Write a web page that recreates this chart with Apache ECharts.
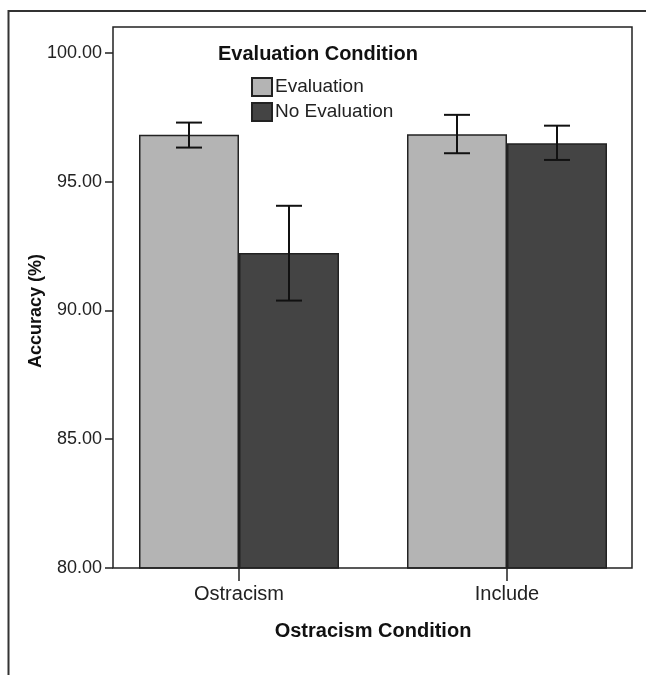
<!DOCTYPE html>
<html>
<head>
    <meta charset="utf-8">
    <script src="https://cdn.jsdelivr.net/npm/echarts@6/dist/echarts.min.js"></script>
    <style>
        html, body { margin: 0; padding: 0; background: #fff; }
        #main { width: 646px; height: 675px; }
    </style>
</head>
<body>
<div id="main"></div>
<script>
    // data
    var categories = ['Ostracism', 'Include'];
    var evalMeans = [96.82, 96.84];
    var evalLow = [96.32, 96.10];
    var evalHigh = [97.29, 97.59];
    var noEvalMeans = [92.23, 96.49];
    var noEvalLow = [90.38, 95.84];
    var noEvalHigh = [94.06, 97.17];
    var yTicks = [80, 85, 90, 95, 100];

    var chart = echarts.init(document.getElementById('main'));

    var barWidth = 100;
    var font = 'Liberation Sans, Arial, sans-serif';

    function errorSeries(low, high, shift) {
        var rows = [];
        for (var i = 0; i < low.length; i++) {
            rows.push([i, low[i], high[i]]);
        }
        return {
            type: 'custom',
            silent: true,
            z: 5,
            data: rows,
            renderItem: function (params, api) {
                var top = api.coord([api.value(0), api.value(2)]);
                var bottom = api.coord([api.value(0), api.value(1)]);
                var x = top[0] + shift;
                var half = 13;
                var style = {stroke: '#111', lineWidth: 2};
                return {
                    type: 'group',
                    children: [
                        {type: 'line', shape: {x1: x, y1: top[1], x2: x, y2: bottom[1]}, style: style},
                        {type: 'line', shape: {x1: x - half, y1: top[1], x2: x + half, y2: top[1]}, style: style},
                        {type: 'line', shape: {x1: x - half, y1: bottom[1], x2: x + half, y2: bottom[1]}, style: style}
                    ]
                };
            }
        };
    }

    var option = {
        animation: false,
        backgroundColor: '#fff',
        textStyle: {fontFamily: font},
        title: {
            text: 'Evaluation Condition',
            left: 218,
            top: 44,
            padding: 0,
            textStyle: {fontSize: 20, fontWeight: 'bold', color: '#111', fontFamily: font}
        },
        legend: {
            orient: 'vertical',
            left: 251,
            top: 77,
            padding: 0,
            icon: 'rect',
            itemWidth: 20,
            itemHeight: 18,
            itemGap: 5,
            data: ['Evaluation', 'No Evaluation'],
            textStyle: {fontSize: 19, color: '#222', lineHeight: 20, fontFamily: font, padding: [0, 0, 0, -2]}
        },
        grid: {
            left: 105,
            right: 5,
            top: 27,
            bottom: 107,
            containLabel: false
        },
        xAxis: {
            type: 'category',
            data: categories,
            name: 'Ostracism Condition',
            nameLocation: 'middle',
            nameGap: 53,
            nameTextStyle: {fontSize: 20, fontWeight: 'bold', color: '#111', fontFamily: font},
            axisLine: {show: false},
            axisTick: {show: true, alignWithLabel: true, length: 13, lineStyle: {color: '#222', width: 1.5}},
            axisLabel: {fontSize: 20, color: '#222', margin: 16, fontFamily: font},
            splitLine: {show: false}
        },
        yAxis: {
            type: 'value',
            min: 80,
            max: 101,
            interval: 5,
            offset: -8,
            axisLine: {show: false},
            axisTick: {show: true, length: 8, customValues: yTicks, lineStyle: {color: '#222', width: 1.5}},
            axisLabel: {
                fontSize: 18, color: '#222', margin: 11, fontFamily: font,
                customValues: yTicks,
                formatter: function (v) { return v.toFixed(2); }
            },
            splitLine: {show: false}
        },
        series: [
            {
                name: 'Evaluation',
                type: 'bar',
                data: evalMeans,
                barWidth: barWidth,
                barGap: '0%',
                itemStyle: {color: '#b4b4b4', borderColor: '#222', borderWidth: 1.5}
            },
            {
                name: 'No Evaluation',
                type: 'bar',
                data: noEvalMeans,
                barWidth: barWidth,
                barGap: '0%',
                itemStyle: {color: '#444444', borderColor: '#222', borderWidth: 1.5}
            },
            errorSeries(evalLow, evalHigh, -barWidth / 2),
            errorSeries(noEvalLow, noEvalHigh, barWidth / 2)
        ],
        graphic: [
            {
                // plot frame
                type: 'rect',
                z: 100,
                silent: true,
                shape: {x: 113, y: 27, width: 519, height: 541},
                style: {fill: null, stroke: '#222', lineWidth: 1.5}
            },
            {
                // figure border (top and left)
                type: 'polyline',
                z: 100,
                silent: true,
                shape: {points: [[8.5, 675], [8.5, 11], [646, 11]]},
                style: {fill: null, stroke: '#333', lineWidth: 2}
            },
            {
                type: 'text',
                silent: true,
                x: 36,
                y: 311,
                rotation: Math.PI / 2,
                style: {
                    text: 'Accuracy (%)',
                    fontSize: 18,
                    fontWeight: 'bold',
                    fontFamily: font,
                    fill: '#111',
                    align: 'center',
                    verticalAlign: 'middle'
                }
            }
        ]
    };

    chart.setOption(option);
</script>
</body>
</html>
